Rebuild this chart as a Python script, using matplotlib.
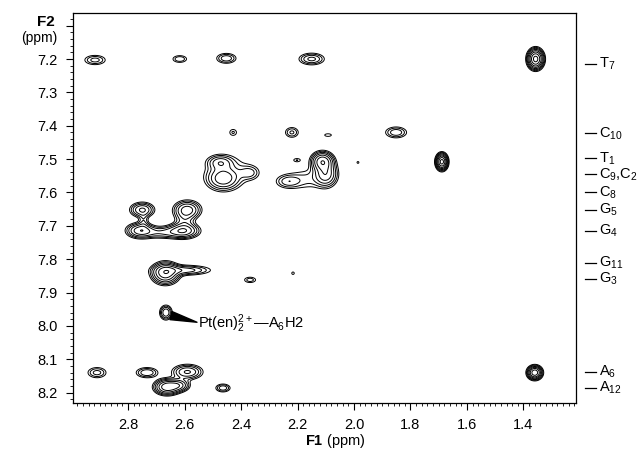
import numpy as np
import matplotlib
matplotlib.use("Agg")
import matplotlib.pyplot as plt
from matplotlib.ticker import MultipleLocator, FixedLocator
import matplotlib.transforms as mtransforms

plt.rcParams['font.family'] = ['Liberation Sans', 'DejaVu Sans']
plt.rcParams['mathtext.fontset'] = 'custom'
plt.rcParams['mathtext.rm'] = 'Liberation Sans'
plt.rcParams['mathtext.it'] = 'Liberation Sans'
plt.rcParams['mathtext.bf'] = 'Liberation Sans:bold'

# ---- cross peaks (F1 ppm, F2 ppm, relative intensity, width F1, width F2)
peak_f1 = [2.917, 2.617, 2.452, 2.150, 1.357,
           2.428, 2.220, 2.092, 1.851,
           2.474, 2.464, 2.370, 2.440,
           2.234, 2.112, 2.100, 2.170, 2.202, 1.986, 1.689,
           2.750, 2.590, 2.757, 2.605, 2.680, 2.600, 2.745,
           2.668, 2.600, 2.368, 2.216,
           2.666,
           2.910, 2.733, 2.590, 2.662, 2.620, 2.464, 1.360]
peak_f2 = [7.203, 7.200, 7.198, 7.200, 7.200,
           7.420, 7.420, 7.428, 7.420,
           7.510, 7.559, 7.541, 7.535,
           7.567, 7.507, 7.545, 7.560, 7.503, 7.510, 7.508,
           7.652, 7.652, 7.714, 7.715, 7.720, 7.685, 7.685,
           7.842, 7.833, 7.862, 7.842,
           7.960,
           8.140, 8.140, 8.138, 8.183, 8.178, 8.186, 8.140]
peak_amp = [2.6, 2.2, 3.0, 3.6, 16.0,
            1.6, 2.4, 1.35, 3.0,
            3.6, 5.5, 2.2, 1.5,
            2.6, 9.0, 6.0, 1.6, 1.5, 1.25, 16.0,
            5.0, 5.5, 6.0, 6.0, 3.0, 2.0, 1.6,
            9.0, 4.0, 1.9, 1.3,
            4.5,
            2.6, 3.2, 5.0, 9.0, 5.0, 3.0, 13.0]
peak_wx = [0.026, 0.019, 0.023, 0.028, 0.015,
           0.012, 0.017, 0.015, 0.025,
           0.027, 0.033, 0.022, 0.060,
           0.028, 0.022, 0.024, 0.045, 0.012, 0.005, 0.011,
           0.025, 0.028, 0.028, 0.033, 0.045, 0.022, 0.011,
           0.027, 0.055, 0.017, 0.006,
           0.013,
           0.023, 0.025, 0.031, 0.025, 0.022, 0.017, 0.014]
peak_wy = [0.010, 0.008, 0.010, 0.011, 0.016,
           0.009, 0.011, 0.005, 0.011,
           0.013, 0.020, 0.013, 0.033,
           0.013, 0.016, 0.022, 0.022, 0.005, 0.004, 0.013,
           0.013, 0.016, 0.013, 0.013, 0.011, 0.022, 0.016,
           0.018, 0.009, 0.007, 0.005,
           0.013,
           0.011, 0.010, 0.013, 0.013, 0.011, 0.008, 0.011]

contour_levels = [1.0, 1.5, 2.2, 3.2, 4.7, 6.8, 10.0, 14.0]

# ---- assignments on the right
assign_names = [r'T$_7$', r'C$_{10}$', r'T$_1$', r'C$_9$,C$_2$', r'C$_8$', r'G$_5$',
                r'G$_4$', r'G$_{11}$', r'G$_3$', r'A$_6$', r'A$_{12}$']
assign_ppm = [7.215, 7.423, 7.498, 7.546, 7.600, 7.653, 7.714, 7.810, 7.860, 8.138, 8.186]

yticks = [7.1, 7.2, 7.3, 7.4, 7.5, 7.6, 7.7, 7.8, 7.9, 8.0, 8.1, 8.2]
ytick_labels = ['', '7.2', '7.3', '7.4', '7.5', '7.6', '7.7', '7.8', '7.9', '8.0', '8.1', '8.2']
xticks = [2.8, 2.6, 2.4, 2.2, 2.0, 1.8, 1.6, 1.4]
xtick_labels = ['2.8', '2.6', '2.4', '2.2', '2.0', '1.8', '1.6', '1.4']

# ---- build spectrum surface
xg = np.linspace(3.0, 1.2, 1600)
yg = np.linspace(7.05, 8.25, 1000)
X, Y = np.meshgrid(xg, yg)
Z = np.zeros_like(X)
for x0, y0, a, sx, sy in zip(peak_f1, peak_f2, peak_amp, peak_wx, peak_wy):
    Z += a * np.exp(-0.5 * ((X - x0) / sx) ** 2 - 0.5 * ((Y - y0) / sy) ** 2)

fig = plt.figure(figsize=(6.42, 4.59), dpi=100)
ax = fig.add_axes([73 / 642, 1 - 403 / 459, (576 - 73) / 642, (403 - 13.3) / 459])
ax.contour(X, Y, Z, levels=contour_levels, colors='black', linewidths=0.7)

ax.set_xlim(2.995, 1.214)
ax.set_ylim(8.231, 7.063)

ax.xaxis.set_major_locator(FixedLocator(xticks))
ax.set_xticklabels(xtick_labels)
ax.xaxis.set_minor_locator(MultipleLocator(0.02))
ax.yaxis.set_major_locator(FixedLocator(yticks))
ax.set_yticklabels(ytick_labels)
ax.yaxis.set_minor_locator(MultipleLocator(0.02))
ax.tick_params(which='major', direction='out', length=5, width=0.8, labelsize=10.5, pad=6)
ax.tick_params(which='minor', direction='out', length=2.5, width=0.6)
ax.tick_params(axis='y', which='both', left=True, right=False)
ax.tick_params(axis='x', which='both', bottom=True, top=False)
for s in ax.spines.values():
    s.set_linewidth(0.9)

# right-side assignments
trans = mtransforms.blended_transform_factory(ax.transAxes, ax.transData)
for name, yp in zip(assign_names, assign_ppm):
    ax.plot([1.017, 1.040], [yp, yp], color='black', lw=0.9, transform=trans, clip_on=False)
    ax.text(1.046, yp, name, transform=trans, ha='left', va='center', fontsize=10.5)

# annotation arrow (wide end at the label, tip at the peak)
ax.annotate('', xy=(2.556, 7.989), xytext=(2.648, 7.969),
            arrowprops=dict(arrowstyle='wedge,tail_width=0.6', fc='black', ec='black',
                            shrinkA=0, shrinkB=0))
ax.text(2.553, 7.992, 'Pt(en)$_2^{2+}$\u2014A$_6$H2', fontsize=10.5, ha='left', va='center')

# axis titles
fig.text(55 / 642, 1 - 22 / 459, 'F2', fontsize=11, fontweight='bold', ha='right', va='center')
fig.text(57 / 642, 1 - 38 / 459, '(ppm)', fontsize=10, ha='right', va='center')
fig.text(335 / 642, 1 - 441 / 459, r'$\mathbf{F1}$ (ppm)', fontsize=10.5, ha='center', va='center')

fig.savefig('out.png', dpi=100)
